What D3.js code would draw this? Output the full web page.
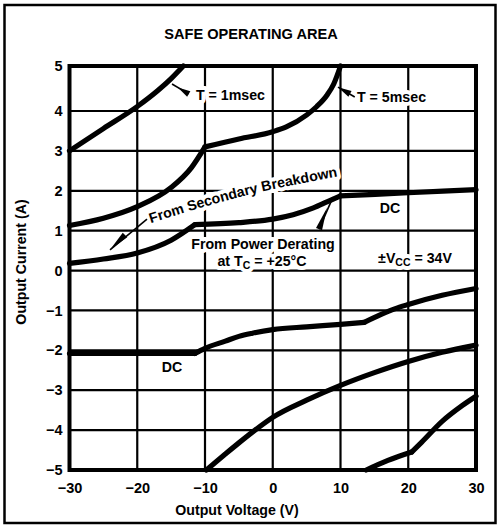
<!DOCTYPE html>
<html>
<head>
<meta charset="utf-8">
<script src="https://cdn.jsdelivr.net/npm/d3@7"></script>
<style>
  html, body { margin: 0; padding: 0; background: #fff; }
  svg { display: block; }
  text { font-family: "Liberation Sans", Arial, Helvetica, sans-serif; font-weight: bold; fill: #000; }
</style>
</head>
<body>
<svg id="chart" width="499" height="527"></svg>
<script>
// Axis ticks
const voltageTicks = [-30, -20, -10, 0, 10, 20, 30];
const currentTicks = [-5, -4, -3, -2, -1, 0, 1, 2, 3, 4, 5];

// Limit curves, [output voltage (V), output current (A)]; kinked curves are split into segments
const pos1ms   = [[-30, 3.0], [-25, 3.56], [-20, 4.1], [-17, 4.45], [-15, 4.72], [-13.2, 5.0]];
const pos5msA  = [[-30, 1.13], [-25, 1.31], [-20, 1.6], [-15, 2.08], [-12, 2.58], [-10, 3.1]];
const pos5msB  = [[-10, 3.1], [-5, 3.3], [0, 3.48], [2, 3.6], [5, 3.9], [6.5, 4.1], [8, 4.35], [9, 4.6], [10, 5.0]];
const posDcA   = [[-30, 0.18], [-25, 0.29], [-20, 0.44], [-15, 0.76], [-11.5, 1.15]];
const posDcB   = [[-11.5, 1.15], [-5, 1.2], [0, 1.29], [3, 1.4], [6, 1.57], [8, 1.72], [10, 1.87]];
const posDcC   = [[10, 1.87], [20, 1.95], [30, 2.03]];
const negDcA   = [[-30, -2.08], [-11.5, -2.08]];
const negDcB   = [[-11.5, -2.08], [-10, -1.95], [-7, -1.77], [-5, -1.65], [-3, -1.57], [0, -1.48], [5, -1.41], [10, -1.35], [13.5, -1.3]];
const negDcC   = [[13.5, -1.3], [16, -1.1], [18, -0.96], [20, -0.85], [25, -0.62], [30, -0.45]];
const neg5ms   = [[-9.8, -5.0], [-7, -4.6], [-5, -4.32], [-3, -4.05], [0, -3.68], [5, -3.25], [10, -2.88], [15, -2.56], [20, -2.28], [25, -2.05], [30, -1.87]];
const neg1msA  = [[13.8, -5.0], [17, -4.76], [20.5, -4.55]];
const neg1msB  = [[20.5, -4.55], [22, -4.3], [25, -3.78], [28, -3.38], [30, -3.15]];

const segments = [pos1ms, pos5msA, pos5msB, posDcA, posDcB, posDcC,
                  negDcA, negDcB, negDcC, neg5ms, neg1msA, neg1msB];

// Leader arrows: line from `from` to `to`, wedge head from `tip` widening to `base`
const arrows = [
  { from: [-14.87, 4.6], to: [-12.4, 4.38], tip: [-14.0, 4.52], base: [-12.4, 4.38] },
  { from: [9.63, 4.53], to: [12.1, 4.31], tip: [9.63, 4.53], base: [11.4, 4.38] },
  { from: [-24.02, 0.52], to: [-18.56, 1.29], tip: [-24.02, 0.52], base: [-21.81, 0.89] },
  { from: [8.89, 1.84], to: [6.83, 1.04], tip: [8.0, 1.57], base: [6.83, 1.04] }
];

// Curved baseline for the secondary breakdown label
const breakdownPath = [[-17.97, 1.19], [-10.74, 1.57], [-1.88, 1.97], [9.93, 2.37]];

const svg = d3.select("#chart");

// Plot scales; the top row of the grid is drawn slightly taller
const x = d3.scaleLinear().domain([-30, 30]).range([69.5, 476]);
const y = d3.scaleLinear().domain([-5, 4, 5]).range([470, 111, 66]);

// Outer frame
svg.append("rect")
  .attr("x", 4.5).attr("y", 5).attr("width", 491).attr("height", 518)
  .attr("fill", "none").attr("stroke", "#000").attr("stroke-width", 2.5);

// Title
svg.append("text")
  .attr("x", 251).attr("y", 39)
  .attr("text-anchor", "middle")
  .style("font-size", "14.6px")
  .text("SAFE OPERATING AREA");

// Grid
const grid = svg.append("g").attr("stroke", "#000").attr("stroke-width", 2.2);
grid.selectAll("line.v")
  .data(voltageTicks.slice(1, -1))
  .join("line")
  .attr("class", "v")
  .attr("x1", d => x(d)).attr("x2", d => x(d))
  .attr("y1", y(5)).attr("y2", y(-5));
grid.selectAll("line.h")
  .data(currentTicks.slice(1, -1))
  .join("line")
  .attr("class", "h")
  .attr("x1", x(-30)).attr("x2", x(30))
  .attr("y1", d => y(d)).attr("y2", d => y(d));

// Axes (labels only; the frame draws the edges)
const fmt = d => (d < 0 ? "\u2212" + Math.abs(d) : String(d));
const xAxis = svg.append("g")
  .attr("transform", `translate(0,${y(-5)})`)
  .call(d3.axisBottom(x).tickValues(voltageTicks).tickSize(0).tickPadding(13).tickFormat(fmt));
const yAxis = svg.append("g")
  .attr("transform", `translate(${x(-30)},0)`)
  .call(d3.axisLeft(y).tickValues(currentTicks).tickSize(0).tickPadding(7).tickFormat(fmt));
[xAxis, yAxis].forEach(a => {
  a.select(".domain").remove();
  a.selectAll("text")
    .attr("fill", "#000")
    .style("font-family", "'Liberation Sans', Arial, sans-serif")
    .style("font-weight", "bold")
    .style("font-size", "14.5px");
});

// Axis titles
svg.append("text")
  .attr("x", 237).attr("y", 515)
  .attr("text-anchor", "middle")
  .style("font-size", "14.2px")
  .text("Output Voltage (V)");
svg.append("text")
  .attr("transform", "translate(26,262) rotate(-90)")
  .attr("text-anchor", "middle")
  .style("font-size", "14.2px")
  .text("Output Current (A)");

// Path used by the arc-shaped label
const arcLine = d3.line().x(d => x(d[0])).y(d => y(d[1])).curve(d3.curveCatmullRom);
svg.append("defs").append("path")
  .attr("id", "breakdownArc")
  .attr("d", arcLine(breakdownPath));

// Annotation labels: drawn once as a white knock-out layer over the grid, then in black
function drawLabels(g) {
  const label = (pos, anchor) => g.append("text")
    .attr("x", x(pos[0])).attr("y", y(pos[1]))
    .attr("text-anchor", anchor);
  label([-11.33, 4.24], "start").text("T = 1msec");
  label([12.44, 4.2], "start").text("T = 5msec");
  label([17.3, 1.44], "middle").text("DC");
  label([-14.87, -2.54], "middle").text("DC");
  label([-1.44, 0.54], "middle").text("From Power Derating");
  const tc = label([-1.59, 0.11], "middle");
  tc.append("tspan").text("at T");
  tc.append("tspan").attr("dy", 3).style("font-size", "10.5px").text("C");
  tc.append("tspan").attr("dy", -3).text(" = +25\u00B0C");
  const vcc = label([21.0, 0.19], "middle");
  vcc.append("tspan").text("\u00B1V");
  vcc.append("tspan").attr("dy", 3).style("font-size", "10.5px").text("CC");
  vcc.append("tspan").attr("dy", -3).text(" = 34V");
  g.append("text")
    .append("textPath")
    .attr("href", "#breakdownArc")
    .attr("startOffset", "0%")
    .text("From Secondary Breakdown");
}
const knockout = svg.append("g")
  .style("font-size", "14.2px")
  .attr("stroke", "#fff").attr("stroke-width", 8).attr("stroke-linejoin", "round");
drawLabels(knockout);
knockout.selectAll("text").style("fill", "#fff");
const ink = svg.append("g").style("font-size", "14.2px");
drawLabels(ink);

// Plot border
svg.append("rect")
  .attr("x", x(-30)).attr("y", y(5))
  .attr("width", x(30) - x(-30)).attr("height", y(-5) - y(5))
  .attr("fill", "none").attr("stroke", "#000").attr("stroke-width", 4);

// Limit curves
const line = d3.line().x(d => x(d[0])).y(d => y(d[1])).curve(d3.curveMonotoneX);
svg.append("g")
  .attr("fill", "none").attr("stroke", "#000")
  .attr("stroke-width", 5.2).attr("stroke-linecap", "round").attr("stroke-linejoin", "round")
  .selectAll("path")
  .data(segments)
  .join("path")
  .attr("d", line);

// Leader arrows
const ag = svg.append("g");
arrows.forEach(a => {
  const [fx, fy] = [x(a.from[0]), y(a.from[1])];
  const [tx, ty] = [x(a.to[0]), y(a.to[1])];
  ag.append("line")
    .attr("x1", fx).attr("y1", fy).attr("x2", tx).attr("y2", ty)
    .attr("stroke", "#000").attr("stroke-width", 1.6);
  const [px, py] = [x(a.tip[0]), y(a.tip[1])];
  const [bx, by] = [x(a.base[0]), y(a.base[1])];
  const len = Math.hypot(bx - px, by - py);
  const nx = -(by - py) / len * 3.2, ny = (bx - px) / len * 3.2;
  ag.append("path")
    .attr("d", `M${px},${py}L${bx + nx},${by + ny}L${bx - nx},${by - ny}Z`)
    .attr("fill", "#000");
});
</script>
</body>
</html>
